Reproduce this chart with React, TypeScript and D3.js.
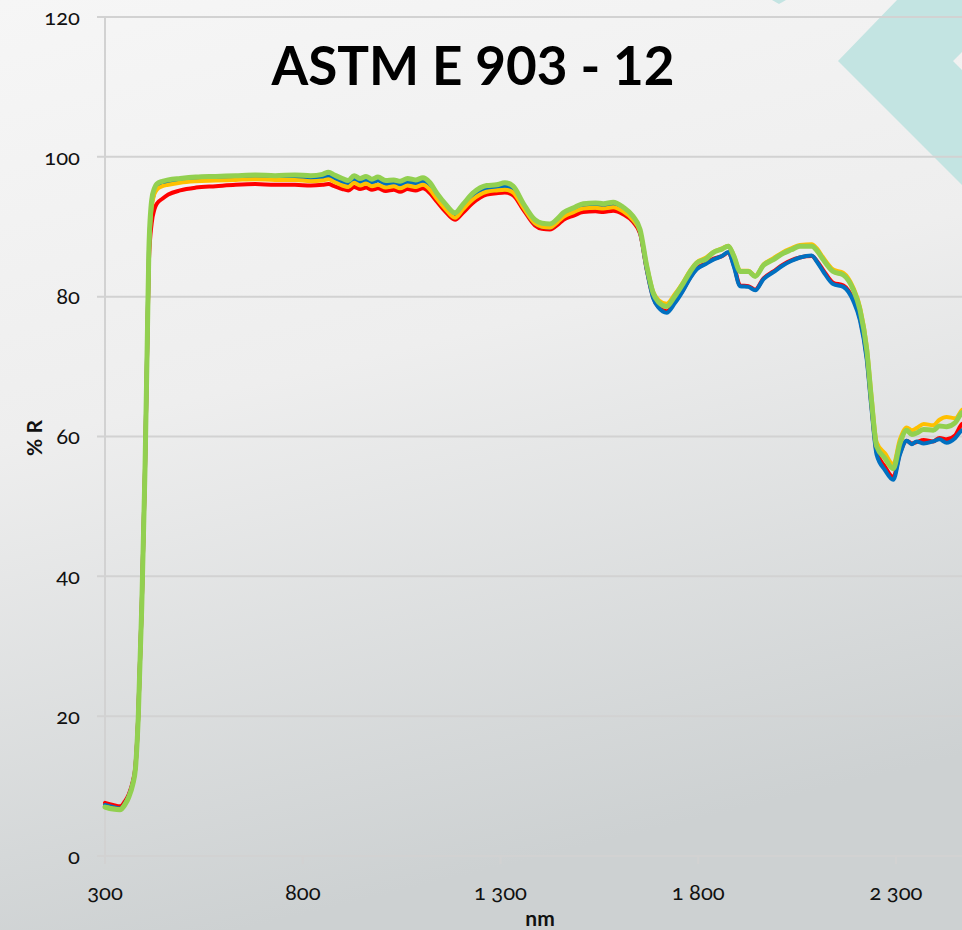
import React from "react";
import * as d3 from "d3";

const W = 962;
const H = 930;

const titleText = "ASTM E 903 - 12";
const xLabel = "nm";
const yLabel = "% R";

const xTicks = [300, 800, 1300, 1800, 2300];
const yTicks = [0, 20, 40, 60, 80, 100, 120];

// Wavelength grid shared by all four measured samples (nm)
const wavelengths = [
  300, 320, 338, 350, 360, 370, 377, 384, 393, 401, 407, 411, 418, 425, 431, 445, 460, 490, 530, 580,
  630, 680, 730, 780, 820, 850, 865, 880, 900, 915, 930, 945, 960, 975, 990, 1010, 1030, 1046, 1065, 1085,
  1104, 1120, 1139, 1160, 1185, 1205, 1230, 1265, 1290, 1311, 1332, 1357, 1387, 1405, 1425, 1445, 1459, 1485, 1509, 1540,
  1560, 1585, 1610, 1635, 1653, 1670, 1686, 1700, 1720, 1740, 1762, 1780, 1796, 1820, 1838, 1860, 1876, 1890, 1906, 1927,
  1944, 1965, 1990, 2015, 2035, 2057, 2087, 2100, 2116, 2141, 2167, 2192, 2209, 2226, 2238, 2251, 2272, 2293, 2310, 2327,
  2340, 2352, 2370, 2394, 2410, 2428, 2450, 2467, 2490,
];

const redValues = [
  7.6, 7.3, 7.1, 7.8, 8.8, 10.6, 12.9, 20.0, 36.0, 55.0, 73.5, 85.0, 90.5, 92.5, 93.3, 94.0, 94.6, 95.2, 95.6, 95.8,
  96.0, 96.1, 96.0, 96.0, 95.9, 96.0, 96.1, 95.8, 95.4, 95.2, 95.7, 95.4, 95.6, 95.3, 95.5, 95.1, 95.3, 95.0, 95.4, 95.2,
  95.5, 94.9, 93.6, 92.2, 91.0, 92.0, 93.4, 94.6, 94.8, 94.9, 94.5, 92.5, 90.2, 89.7, 89.6, 90.3, 91.0, 91.6, 92.1, 92.2,
  92.1, 92.3, 91.8, 90.7, 89.0, 83.8, 79.9, 78.5, 77.9, 79.2, 81.0, 82.8, 84.0, 84.8, 85.4, 85.8, 86.3, 84.5, 81.6, 81.5,
  81.0, 82.6, 83.6, 84.6, 85.2, 85.6, 85.8, 85.1, 83.8, 82.0, 81.6, 79.6, 76.9, 71.4, 64.4, 57.8, 55.7, 54.2, 57.6, 59.4,
  59.0, 59.2, 59.5, 59.3, 59.8, 59.6, 60.2, 61.8, 62.2,
];

const blueValues = [
  7.3, 7.0, 6.8, 7.5, 8.6, 10.4, 12.7, 19.8, 35.9, 55.0, 74.0, 86.3, 93.0, 94.9, 95.5, 96.0, 96.2, 96.5, 96.7, 96.8,
  96.9, 97.0, 96.9, 97.0, 96.9, 97.0, 97.2, 96.9, 96.4, 96.2, 96.8, 96.4, 96.7, 96.3, 96.6, 96.1, 96.2, 96.0, 96.4, 96.2,
  96.5, 95.9, 94.3, 92.8, 91.4, 92.7, 94.3, 95.5, 95.6, 95.8, 95.3, 92.9, 90.5, 90.0, 89.9, 90.8, 91.6, 92.3, 92.8, 93.0,
  92.9, 93.0, 92.3, 91.0, 89.2, 83.8, 79.8, 78.4, 77.7, 79.0, 80.9, 82.7, 83.9, 84.7, 85.3, 85.8, 86.4, 84.3, 81.5, 81.4,
  80.9, 82.5, 83.5, 84.5, 85.1, 85.6, 85.9, 85.0, 83.6, 81.8, 81.4, 79.4, 76.6, 71.0, 64.0, 57.4, 55.2, 53.8, 57.4, 59.4,
  58.9, 59.3, 59.0, 59.3, 59.6, 59.1, 59.8, 60.9, 61.2,
];

const yellowValues = [
  7.0, 6.8, 6.7, 7.4, 8.5, 10.3, 12.6, 19.7, 35.8, 54.9, 73.8, 86.0, 92.8, 94.7, 95.3, 95.8, 96.0, 96.3, 96.5, 96.6,
  96.7, 96.8, 96.7, 96.7, 96.5, 96.6, 96.8, 96.4, 95.9, 95.7, 96.3, 95.9, 96.2, 95.8, 96.0, 95.6, 95.8, 95.5, 95.9, 95.7,
  96.0, 95.4, 94.0, 92.6, 91.3, 92.5, 93.9, 95.0, 95.2, 95.3, 94.9, 92.8, 90.5, 90.0, 89.9, 90.7, 91.4, 92.1, 92.6, 92.7,
  92.6, 92.8, 92.2, 91.0, 89.3, 84.4, 80.7, 79.5, 79.0, 80.3, 82.1, 83.8, 84.9, 85.6, 86.4, 86.9, 87.3, 85.9, 83.7, 83.7,
  83.0, 84.6, 85.5, 86.4, 86.9, 87.4, 87.5, 86.9, 85.6, 83.9, 83.4, 81.3, 78.5, 72.9, 65.8, 59.2, 57.6, 56.0, 59.6, 61.3,
  60.9, 61.2, 61.8, 61.6, 62.4, 62.8, 62.6, 63.8, 64.3,
];

const greenValues = [
  7.0, 6.7, 6.6, 7.3, 8.4, 10.2, 12.5, 19.7, 35.8, 54.9, 74.0, 86.8, 93.8, 95.5, 96.1, 96.5, 96.7, 96.9, 97.1, 97.2,
  97.3, 97.4, 97.3, 97.4, 97.3, 97.5, 97.8, 97.4, 96.9, 96.6, 97.3, 96.9, 97.2, 96.8, 97.1, 96.6, 96.7, 96.5, 96.9, 96.7,
  97.0, 96.4, 94.8, 93.3, 92.0, 93.2, 94.8, 95.9, 96.0, 96.3, 95.8, 93.4, 91.0, 90.5, 90.4, 91.2, 92.0, 92.7, 93.3, 93.4,
  93.3, 93.5, 92.8, 91.5, 89.6, 84.3, 80.5, 79.2, 78.6, 80.0, 81.9, 83.6, 84.8, 85.4, 86.3, 86.8, 87.2, 85.8, 83.6, 83.6,
  82.9, 84.5, 85.3, 86.2, 86.7, 87.2, 87.2, 86.6, 85.3, 83.6, 83.1, 81.0, 78.1, 72.4, 65.2, 58.6, 56.9, 55.4, 59.0, 60.9,
  60.3, 60.5, 61.0, 60.9, 61.5, 61.4, 62.0, 63.4, 63.8,
];

const seriesColors = ["#ff0000", "#0070c0", "#ffc000", "#92d050"];
const seriesWidths = [4, 4, 4, 5];

const fmt = (v: number) => (v >= 1000 ? `${Math.floor(v / 1000)}\u202f${String(v % 1000).padStart(3, "0")}` : String(v));

export default function App() {
  const x = d3.scaleLinear().domain([300, 2500]).range([105, 105 + 2200 * 0.3955]);
  const y = d3.scaleLinear().domain([0, 120]).range([856, 17]);

  const line = d3
    .line<number>()
    .x((_, i) => x(wavelengths[i]))
    .y((v) => y(v))
    .curve(d3.curveMonotoneX);

  const series = [redValues, blueValues, yellowValues, greenValues];
  const font = "Lato, 'Open Sans', sans-serif";

  return (
    <svg
      width={W}
      height={H}
      viewBox={`0 0 ${W} ${H}`}
      style={{ position: "absolute", left: 0, top: 0, display: "block" }}
    >
      <defs>
        <linearGradient id="bg" x1="0" y1="0" x2="0.25" y2="1">
          <stop offset="0" stopColor="#f6f6f6" />
          <stop offset="0.45" stopColor="#eeeeee" />
          <stop offset="1" stopColor="#cdd1d2" />
        </linearGradient>
      </defs>
      <rect x={0} y={0} width={W} height={H} fill="url(#bg)" />

      {/* decorative teal chevron */}
      <polygon points="897,0 838,61 962,185 962,70 953,61 962,52 962,0" fill="#c3e4e2" />
      <polygon points="772,0 779,4 786,0" fill="#c3e4e2" />

      {/* horizontal gridlines with left ticks */}
      {yTicks.map((t) => (
        <line key={`g${t}`} x1={97} x2={W} y1={y(t)} y2={y(t)} stroke="#d2d2d2" strokeWidth={2} />
      ))}
      {/* vertical axis */}
      <line x1={x(300)} x2={x(300)} y1={y(120)} y2={864} stroke="#d2d2d2" strokeWidth={2} />
      {/* x ticks */}
      {xTicks.map((t) => (
        <line key={`xt${t}`} x1={x(t)} x2={x(t)} y1={y(0)} y2={864} stroke="#d2d2d2" strokeWidth={2} />
      ))}

      {/* y tick labels */}
      {yTicks.map((t) => (
        <text
          key={`yl${t}`}
          x={80}
          y={y(t)}
          dy="0.35em"
          textAnchor="end"
          fontFamily={font}
          fontSize={22}
          fill="#111"
          style={{ fontVariantNumeric: "oldstyle-nums" }}
        >
          {t}
        </text>
      ))}

      {/* x tick labels */}
      {xTicks.map((t) => (
        <text
          key={`xl${t}`}
          x={x(t)}
          y={892}
          dy="0.35em"
          textAnchor="middle"
          fontFamily={font}
          fontSize={22}
          fill="#111"
          style={{ fontVariantNumeric: "oldstyle-nums" }}
        >
          {fmt(t)}
        </text>
      ))}

      {/* measured reflectance curves */}
      {series.map((vals, i) => (
        <path
          key={`s${i}`}
          d={line(vals) ?? ""}
          fill="none"
          stroke={seriesColors[i]}
          strokeWidth={seriesWidths[i]}
          strokeLinejoin="round"
          strokeLinecap="round"
        />
      ))}

      {/* axis titles */}
      <text x={540} y={926} textAnchor="middle" fontFamily={font} fontSize={21} fontWeight="bold" fill="#111">
        {xLabel}
      </text>
      <text
        transform="translate(35,438) rotate(-90)"
        dy="0.35em"
        textAnchor="middle"
        fontFamily={font}
        fontSize={21}
        fontWeight="bold"
        fill="#111"
      >
        {yLabel}
      </text>

      {/* chart title */}
      <text x={473} y={85} textAnchor="middle" fontFamily={font} fontSize={53} fontWeight="bold" fill="#000">
        {titleText}
      </text>
    </svg>
  );
}
